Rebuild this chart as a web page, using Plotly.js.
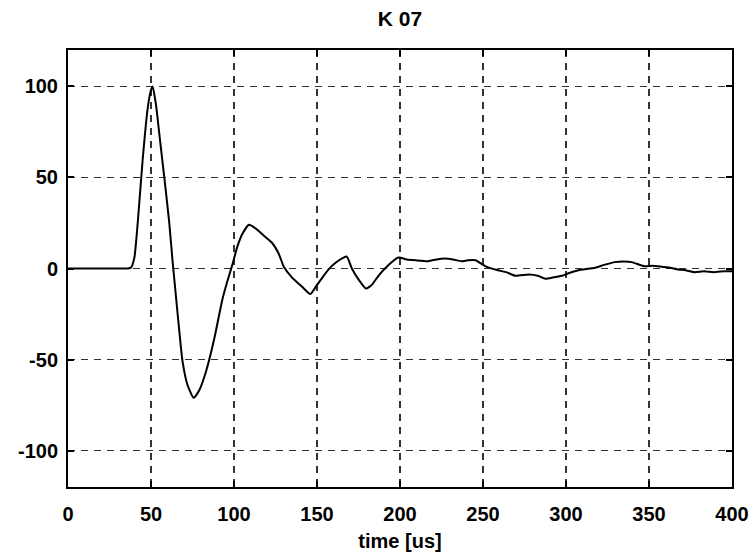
<!DOCTYPE html>
<html>
<head>
<meta charset="utf-8">
<script src="https://cdn.plot.ly/plotly-3.0.1.min.js"></script>
<style>html,body{margin:0;padding:0;background:#fff;}#chart{width:755px;height:557px;}</style>
</head>
<body>
<div id="chart"></div>
<script>
// time in microseconds
const timeUs = [0, 10, 20, 30, 36, 38, 40, 42, 45, 48, 50, 51, 53, 55, 57, 59, 61, 63, 65, 67, 69, 72, 75.7, 79, 83, 88, 93, 96, 99, 102, 105, 109, 113, 118, 123, 127, 130, 135, 141, 146, 150, 154, 157, 161, 166, 168, 171, 175, 179.5, 183, 187, 192, 199, 204, 209.5, 217, 222, 227, 232, 237, 241, 245.5, 251.5, 259, 264, 269.5, 277.5, 283, 287.5, 292, 297.5, 302, 307.5, 317.5, 323, 329.5, 335, 339.5, 347.5, 352, 357.5, 362, 367.5, 372, 377.5, 383, 389, 395.5, 400];
const signal = [0, 0, 0, 0, 0, 0.5, 6, 25, 60, 88, 98, 100, 90, 74, 58, 42, 25, 4, -15, -34, -51, -64, -71, -67, -57, -39, -17, -7, 2, 12, 19, 24, 22, 18, 14, 8, 1, -5, -10, -14, -9, -4, -0.5, 3, 6, 6.5, 0, -6, -11, -9, -4, 1, 6, 5, 4.5, 4, 5, 5.5, 5, 4, 4.5, 4.5, 1.2, -1, -2, -4, -3.3, -4, -5.6, -5, -4, -2.5, -1, 0.4, 2, 3.5, 3.8, 3.5, 1.2, 1.5, 1, 0.5, -0.5, -1, -2, -1.5, -2, -1.5, -1.5];
const xTicks = [0, 50, 100, 150, 200, 250, 300, 350, 400];
const yTicks = [-100, -50, 0, 50, 100];

const FONT = 'Liberation Sans, Arial, Helvetica, sans-serif';

const trace = {
  x: timeUs, y: signal, type: 'scatter', mode: 'lines',
  line: {color: '#000', width: 2, shape: 'spline', smoothing: 0.5},
  hoverinfo: 'skip'
};

const layout = {
  width: 755, height: 557,
  margin: {l: 68, r: 23, t: 50, b: 70},
  paper_bgcolor: '#fff', plot_bgcolor: '#fff',
  showlegend: false,
  font: {family: FONT, color: '#000', size: 20, weight: 'bold'},
  title: {
    text: '<b>K 07</b>',
    font: {family: FONT, size: 21, color: '#000'},
    x: 0.5, xref: 'paper', xanchor: 'center',
    y: 1 - 19/557, yref: 'container', yanchor: 'middle'
  },
  xaxis: {
    range: [0, 400], tickvals: xTicks, ticktext: xTicks.map(v => '<b>' + v + '</b>'),
    showline: true, linecolor: '#000', linewidth: 2, mirror: 'ticks',
    ticks: 'inside', ticklen: 6, tickwidth: 2, tickcolor: '#000',
    showgrid: true, gridcolor: '#333', griddash: '7px,6px', gridwidth: 1.6,
    zeroline: false,
    ticklabelstandoff: 8,
    tickfont: {family: FONT, size: 20, color: '#000'},
    title: {text: '<b>time [us]</b>', font: {family: FONT, size: 20, color: '#000'}, standoff: 10}
  },
  yaxis: {
    range: [-120, 120], tickvals: yTicks, ticktext: yTicks.map(v => '<b>' + v + '</b>'),
    showline: true, linecolor: '#000', linewidth: 2, mirror: 'ticks',
    ticks: 'inside', ticklen: 6, tickwidth: 2, tickcolor: '#000',
    showgrid: true, gridcolor: '#333', griddash: '7px,6px', gridwidth: 1.6,
    zeroline: false,
    ticklabelstandoff: 4,
    tickfont: {family: FONT, size: 20, color: '#000'}
  }
};

Plotly.newPlot('chart', [trace], layout, {displayModeBar: false, staticPlot: true});
</script>
</body>
</html>
